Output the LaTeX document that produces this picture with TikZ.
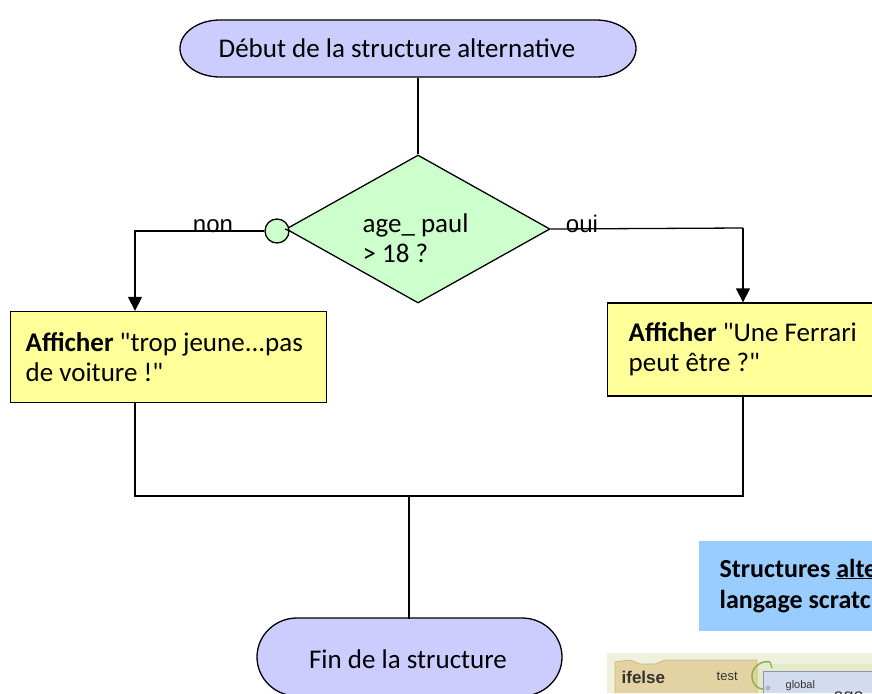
\documentclass[tikz,border=0pt]{standalone}
\usepackage{fontspec}
\newfontfamily\calfont{Carlito}
\newfontfamily\arialf{Liberation Sans}
\usetikzlibrary{shapes.geometric,arrows.meta}
\definecolor{termfill}{HTML}{CCCCFF}
\definecolor{diafill}{HTML}{CCFFCC}
\definecolor{boxfill}{HTML}{FFFF99}
\definecolor{notefill}{HTML}{99CCFF}
\definecolor{scrbg}{HTML}{EEF1DC}
\definecolor{scrband}{HTML}{E2EACB}
\definecolor{scrtan}{HTML}{E3D2A2}
\definecolor{scrtanline}{HTML}{CDB883}
\definecolor{scrgreen}{HTML}{8DB34E}
\definecolor{scrblue}{HTML}{D3DBEF}
\definecolor{scrblueline}{HTML}{8D96A8}
\begin{document}
\begin{tikzpicture}[x=1pt,y=-1pt, line width=1.3pt,
  every node/.style={font=\calfont\fontsize{27}{30}\selectfont},
  lbl/.style={font=\arialf\fontsize{24}{28}\selectfont, inner sep=0pt},
  terminal/.style={draw=none, inner sep=0pt},
  action/.style={draw, fill=boxfill, inner ysep=0pt, align=flush left},
  decision/.style={diamond, draw, fill=diafill, inner sep=0pt, minimum width=264pt, minimum height=148pt},
  joint/.style={circle, draw, fill=diafill, minimum size=24pt, inner sep=0pt},
  note/.style={fill=notefill, inner sep=0pt, font=\calfont\bfseries\fontsize{26}{31}\selectfont, align=flush left},
  arr/.style={-{Triangle[width=14pt,length=14pt]}},
  scrtxt/.style={inner sep=0pt, text=black!80},
]
\useasboundingbox (0,0) rectangle (872,693);
\clip (0,0) rectangle (872,693);
\fill[white] (0,0) rectangle (872,693);

% start terminal
\filldraw[fill=termfill] (220,20) -- (596,20)
  arc[start angle=-90,end angle=90,x radius=40,y radius=28.5] -- (220,77)
  arc[start angle=90,end angle=270,x radius=40,y radius=28.5] -- cycle;
\node[terminal, minimum width=456pt, minimum height=57pt] (start) at (397,48.5) {Début de la structure alternative};

% decision
\node[decision] (dia) at (418,229) {};
\node[anchor=west, align=left, inner sep=0pt] (cond) at (362,238) {age\_ paul\\> 18 ?};
\node[joint] (nocirc) at (277,231) {};

% actions
\node[action, anchor=west, minimum height=91pt, inner xsep=15pt, text width=286pt] (bl) at (10,357) {\textbf{Afficher} "trop jeune...pas\\de voiture !"};
\node[action, anchor=west, minimum height=93pt, inner xsep=21pt, text width=260pt] (br) at (607,349.5) {\textbf{Afficher} "Une Ferrari\\peut être ?"};

% end terminal
\filldraw[fill=termfill] (297,618) -- (522,618)
  arc[start angle=-90,end angle=90,x radius=40,y radius=39] -- (297,696)
  arc[start angle=90,end angle=270,x radius=40,y radius=39] -- cycle;
\node[terminal, minimum width=305pt, minimum height=78pt] (fin) at (408,659) {Fin de la structure};

% coordinates
\coordinate (nocorner) at (135,231);
\coordinate (yescorner) at (743,228);
\coordinate (join) at (409,496);

% connectors
\draw (dia.north |- start.south) -- (dia.north);
\draw (nocirc.east) -- (dia.west);
\draw[arr] (nocirc.west) -- (nocorner) -- (nocorner |- bl.north);
\draw (dia.east) -- (yescorner);
\draw[arr] (yescorner) -- (yescorner |- br.north);
\draw (nocorner |- bl.south) -- (nocorner |- join) -- (yescorner |- join) -- (yescorner |- br.south);
\draw (join) -- (join |- fin.north);

% labels
\node[lbl, anchor=base] (nonlbl) at (213,232) {non};
\node[lbl, anchor=base] (ouilbl) at (582,232) {oui};

% note box
\node[note, anchor=north west, minimum height=90pt, text width=300pt, inner xsep=21pt] (notebox) at (698,540) {Structures \underline{alternatives} en\\langage scratch};

% scratch blocks picture
\fill[scrbg] (607,653) rectangle (872,693);
\fill[scrband] (757,664) rectangle (872,693);
\filldraw[fill=scrtan, draw=scrtanline, line width=0.8pt] (615,693) -- (615,662) -- (630,660) -- (640,664) -- (655,664) -- (665,660) -- (757,660) -- (757,693);
\node[scrtxt, anchor=west, font=\arialf\bfseries\fontsize{17}{18}\selectfont] (ifelse) at (621,677) {ifelse};
\node[scrtxt, anchor=west, font=\arialf\fontsize{13}{14}\selectfont] (testlbl) at (716,676) {test};
\filldraw[fill=scrblue, draw=scrblueline, line width=0.8pt] (763,693) -- (763,671) -- (880,671) -- (880,693);
\draw[scrgreen, line width=1.6pt] (770,662) .. controls (760,660) and (752,668) .. (752,676) .. controls (752,684) and (758,690) .. (764,689);
\draw[scrgreen, line width=1.4pt] (770,662) -- (772,668);
\fill[scrblueline!70] (768,688) circle (2.5pt);
\node[scrtxt, anchor=west, font=\arialf\fontsize{11}{12}\selectfont] (globlbl) at (785,686) {global};
\node[scrtxt, anchor=west, font=\arialf\fontsize{18}{20}\selectfont] (agelbl) at (833,697) {age\_paul};
\end{tikzpicture}
\end{document}
